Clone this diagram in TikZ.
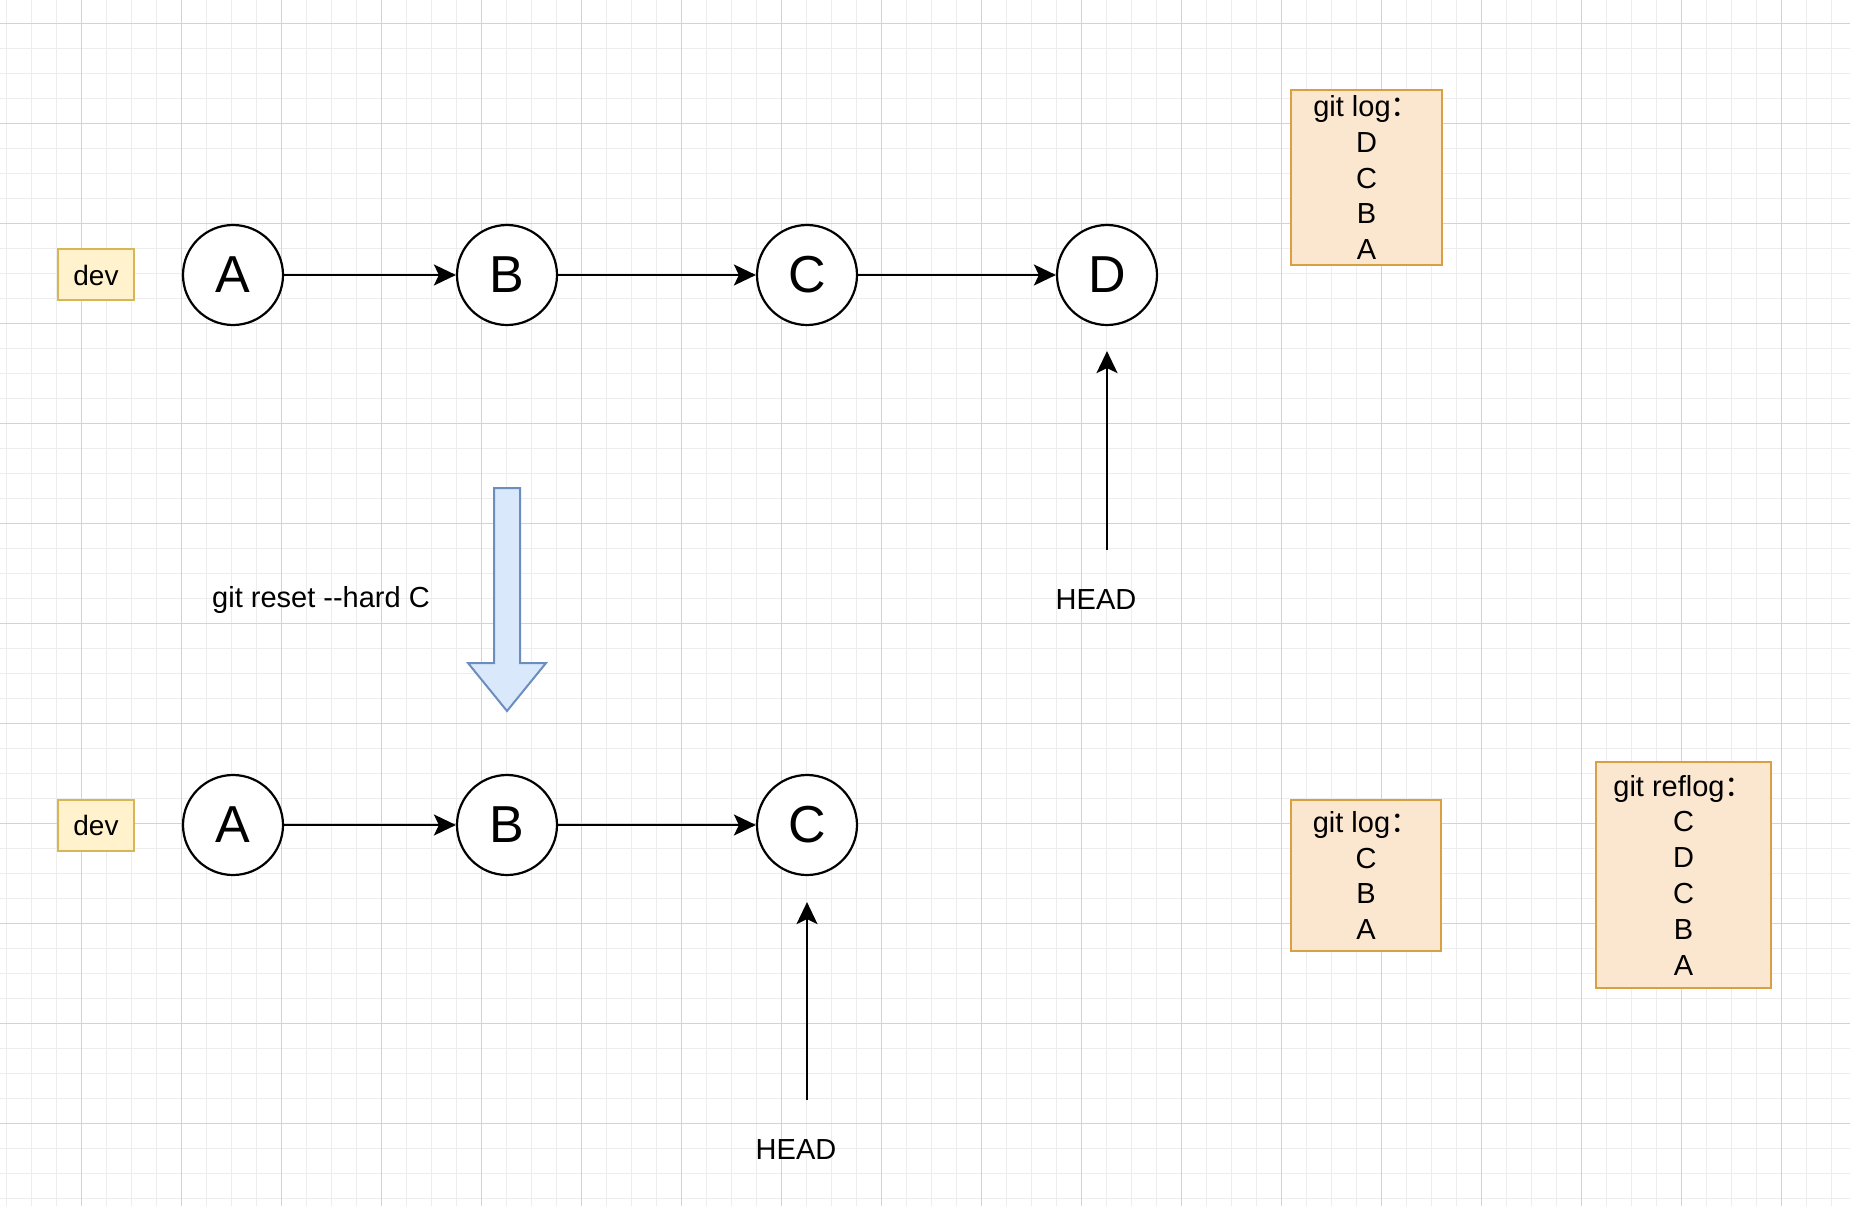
\documentclass[tikz,border=0pt]{standalone}
\usepackage{fontspec}
\setmainfont{Liberation Sans}
\newfontfamily\cjk{Noto Sans CJK SC}
\usetikzlibrary{arrows.meta}
\definecolor{gridminor}{HTML}{EDEDED}
\definecolor{gridmajor}{HTML}{D3D3D3}
\definecolor{devfill}{HTML}{FFF2CC}
\definecolor{devline}{HTML}{D6B656}
\definecolor{logfill}{HTML}{FBE6CF}
\definecolor{logline}{HTML}{D8A040}
\definecolor{bluefill}{HTML}{DAE8FC}
\definecolor{blueline}{HTML}{6C8EBF}
\tikzset{
  commit/.style={circle, draw=black, line width=2.2pt, fill=white, minimum size=100pt, inner sep=0pt, font=\fontsize{52}{60}\selectfont},
  devbox/.style={draw=devline, fill=devfill, line width=2pt, minimum width=76pt, minimum height=51pt, inner sep=0pt, font=\fontsize{28}{32}\selectfont},
  logbox/.style={draw=logline, fill=logfill, line width=2.2pt, inner sep=0pt, align=center, font=\fontsize{29}{35.8}\selectfont},
  lbl/.style={inner sep=0pt, font=\fontsize{29}{34}\selectfont},
  arr/.style={line width=2.2pt, -{Stealth[length=22pt, width=21pt, inset=5pt]}},
}
\begin{document}
\begin{tikzpicture}[x=1pt, y=-1pt]
\useasboundingbox (0,0) rectangle (1850,1206);
\fill[white] (0,0) rectangle (1850,1206);
% grid
\foreach \x in {6.5,31.5,...,1850} \draw[gridminor, line width=1pt] (\x,0) -- (\x,1206);
\foreach \y in {-1.5,23.5,...,1210} \draw[gridminor, line width=1pt] (0,\y) -- (1850,\y);
\foreach \x in {81.5,181.5,...,1850} \draw[gridmajor, line width=1pt] (\x,0) -- (\x,1206);
\foreach \y in {23.5,123.5,...,1210} \draw[gridmajor, line width=1pt] (0,\y) -- (1850,\y);

% top row
\node[devbox] (dev1) at (96,275) {dev};
\node[commit] (a1) at (233,275) {A};
\node[commit] (b1) at (507,275) {B};
\node[commit] (c1) at (807,275) {C};
\node[commit] (d1) at (1107,275) {D};
\draw[arr] (a1) -- (b1);
\draw[arr] (b1) -- (c1);
\draw[arr] (c1) -- (d1);
\coordinate (h1) at (1107,550);
\draw[arr, shorten >=25pt] (h1) -- (d1.south);
\node[lbl] (head1) at (1096,600) {HEAD};
\node[logbox, minimum width=151pt, minimum height=175pt] (log1) at (1366.5,177.5)
  {git log\cjk{：}\\D\\C\\B\\A};

% reset arrow
\draw[draw=blueline, fill=bluefill, line width=2pt, line join=miter]
  (494,488) -- (520,488) -- (520,663) -- (546,663) -- (507,711) -- (468,663) -- (494,663) -- cycle;
\node[lbl] (reset) at (321,600) {git reset {-}{-}hard C};

% bottom row
\node[devbox] (dev2) at (96,825) {dev};
\node[commit] (a2) at (233,825) {A};
\node[commit] (b2) at (507,825) {B};
\node[commit] (c2) at (807,825) {C};
\draw[arr] (a2) -- (b2);
\draw[arr] (b2) -- (c2);
\coordinate (h2) at (807,1100);
\draw[arr, shorten >=26pt] (h2) -- (c2.south);
\node[lbl] (head2) at (796,1150) {HEAD};
\node[logbox, minimum width=150pt, minimum height=151pt] (log2) at (1366,875.5)
  {git log\cjk{：}\\C\\B\\A};
\node[logbox, minimum width=175pt, minimum height=226pt] (reflog) at (1683.5,875)
  {git reflog\cjk{：}\\C\\D\\C\\B\\A};
\end{tikzpicture}
\end{document}
